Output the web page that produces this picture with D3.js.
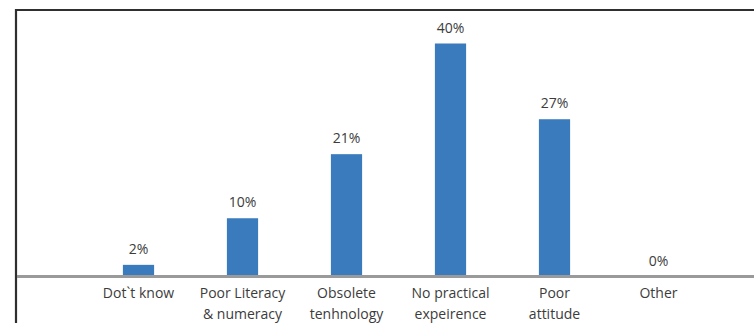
<!DOCTYPE html>
<html>
<head>
<meta charset="utf-8">
<script src="https://cdn.jsdelivr.net/npm/d3@7"></script>
<style>
  html, body { margin: 0; padding: 0; background: #fff; }
  svg { display: block; }
</style>
</head>
<body>
<svg id="chart" width="754" height="323"></svg>
<script>
// Reasons reported, as percentage of respondents
const categories = [
  ["Dot`t know"],
  ["Poor Literacy", "& numeracy"],
  ["Obsolete", "tenhnology"],
  ["No practical", "expeirence"],
  ["Poor", "attitude"],
  ["Other"]
];
const values = [2, 10, 21, 40, 27, 0];
const valueLabels = ["2%", "10%", "21%", "40%", "27%", "0%"];

const W = 754, H = 323;
const svg = d3.select("#chart");
const font = "'Open Sans', 'DejaVu Sans', sans-serif";
const textColor = "#3c3c3c";

const keys = categories.map(c => c.join(" "));

const x = d3.scaleBand()
  .domain(keys)
  .range([86.5, 710.5])
  .paddingInner(0.7)
  .paddingOuter(0.35);

const baseY = 276.5;
const y = d3.scaleLinear()
  .domain([0, 40])
  .range([baseY, 43.5]);

// frame
svg.append("path")
  .attr("d", `M16,${H} L16,10 L${W},10`)
  .attr("fill", "none")
  .attr("stroke", "#2f2f2f")
  .attr("stroke-width", 2.2);

// bars
svg.selectAll("rect.bar")
  .data(values)
  .join("rect")
  .attr("class", "bar")
  .attr("x", (d, i) => x(keys[i]))
  .attr("width", x.bandwidth())
  .attr("y", d => y(d))
  .attr("height", d => baseY - y(d))
  .attr("fill", "#3a7bbd");

// baseline
svg.append("line")
  .attr("x1", 17).attr("x2", W)
  .attr("y1", baseY).attr("y2", baseY)
  .attr("stroke", "#9a9a9a")
  .attr("stroke-width", 3);

// value labels
svg.selectAll("text.val")
  .data(values)
  .join("text")
  .attr("class", "val")
  .attr("x", (d, i) => x(keys[i]) + x.bandwidth() / 2)
  .attr("y", d => y(d) - 11)
  .attr("text-anchor", "middle")
  .attr("font-family", font)
  .attr("font-size", 14)
  .attr("fill", textColor)
  .text((d, i) => valueLabels[i]);

// category labels
const cat = svg.selectAll("text.cat")
  .data(categories)
  .join("text")
  .attr("class", "cat")
  .attr("text-anchor", "middle")
  .attr("font-family", font)
  .attr("font-size", 14)
  .attr("fill", textColor)
  .attr("transform", (d, i) => `translate(${x(keys[i]) + x.bandwidth() / 2},${baseY + 21})`);

cat.selectAll("tspan")
  .data(d => d)
  .join("tspan")
  .attr("x", 0)
  .attr("y", (d, j) => j * 21)
  .text(d => d);
</script>
</body>
</html>
